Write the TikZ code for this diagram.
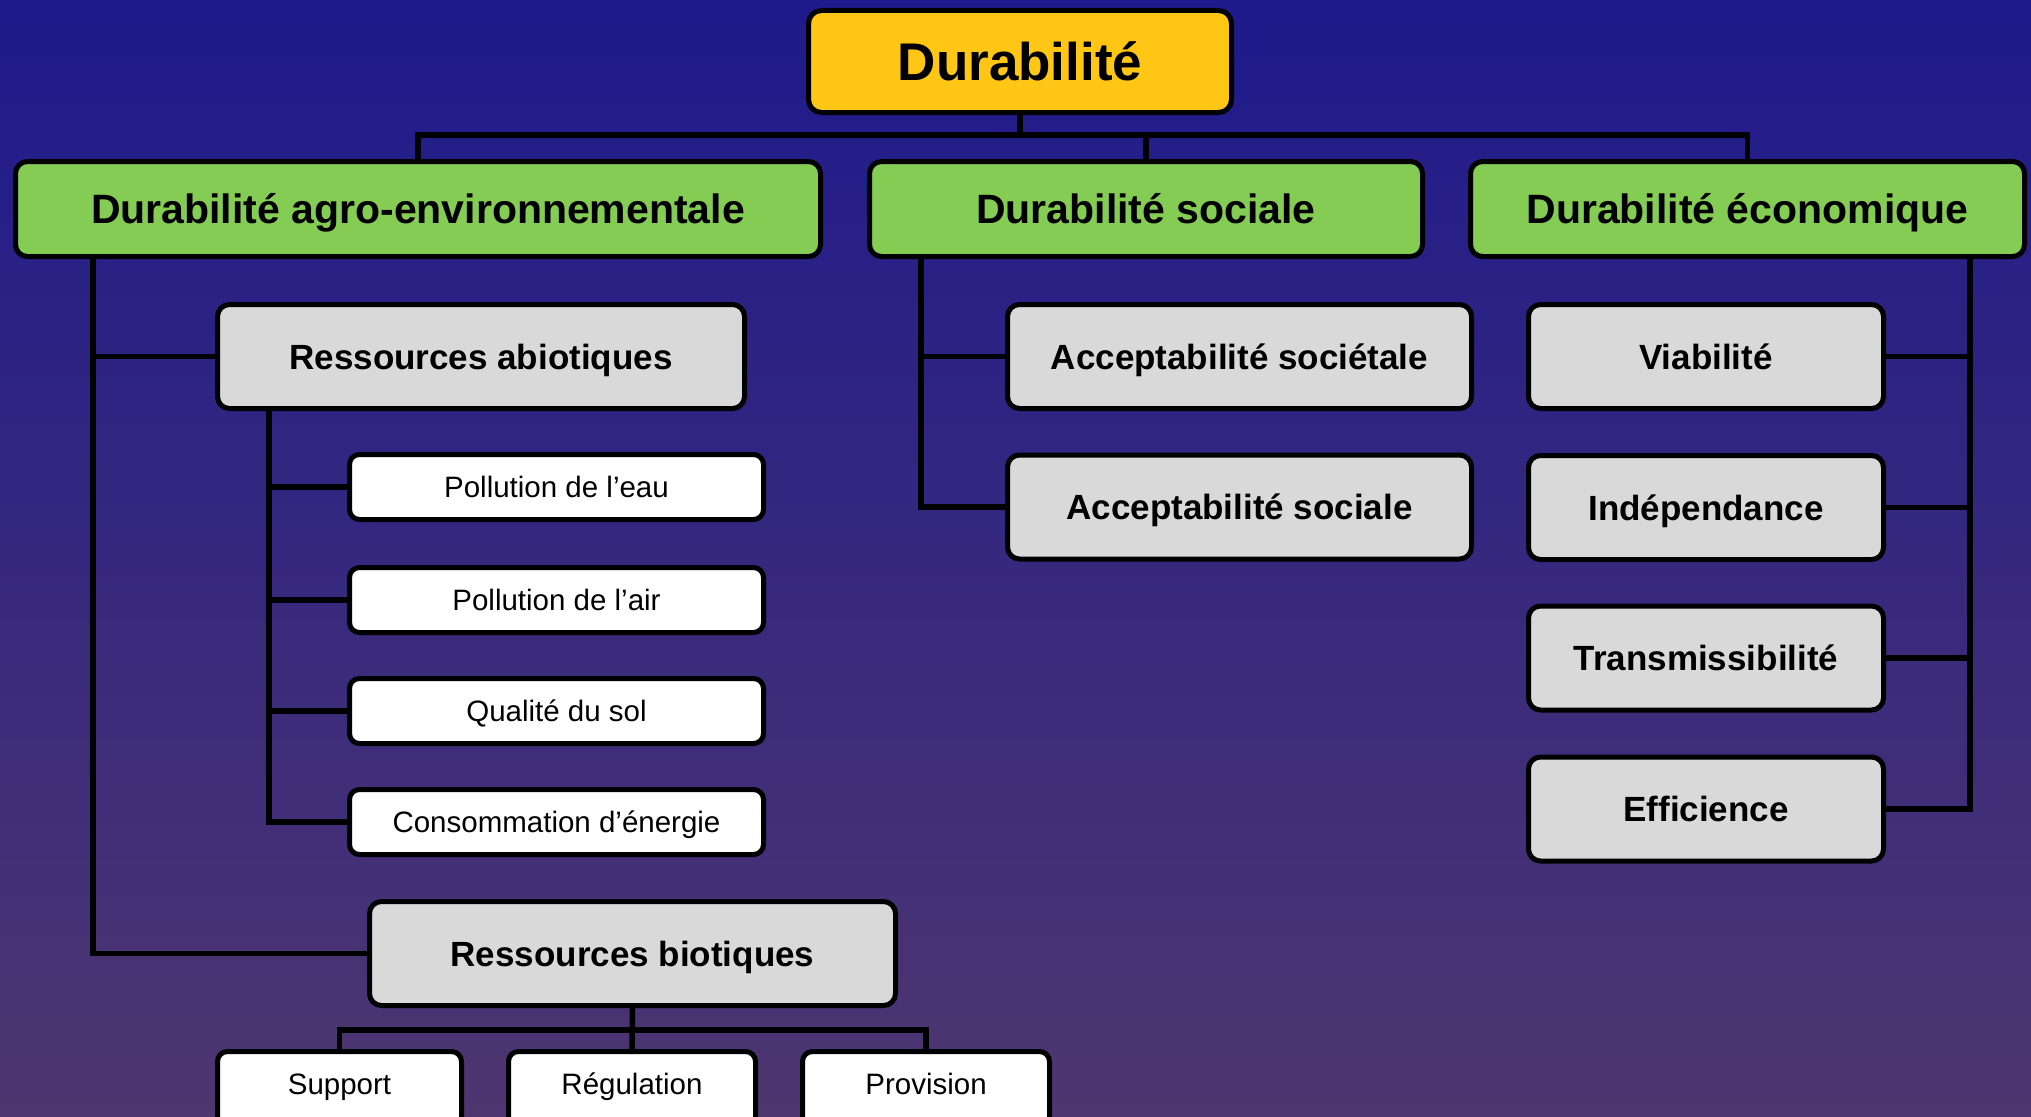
\documentclass[tikz,border=0pt]{standalone}
\usepackage{fontspec}
\setmainfont{Liberation Sans}
\definecolor{bgtop}{RGB}{30,26,140}
\definecolor{bgbot}{RGB}{78,54,112}
\definecolor{rootfill}{RGB}{255,198,22}
\definecolor{pillarfill}{RGB}{132,204,84}
\definecolor{critfill}{RGB}{217,217,217}
\begin{document}
\begin{tikzpicture}[x=1pt,y=-1pt,
  box/.style={draw=black, line width=5pt, inner sep=0pt, align=center, text depth=0pt},
  rootbox/.style={box, fill=rootfill, rounded corners=13pt, text height=38pt,
    font=\fontsize{53}{60}\selectfont\bfseries},
  pillar/.style={box, fill=pillarfill, rounded corners=12pt, minimum height=95pt,
    text height=29.5pt, font=\fontsize{41}{48}\selectfont\bfseries},
  crit/.style={box, fill=critfill, rounded corners=12pt, minimum height=104pt,
    text height=25.2pt, font=\fontsize{35}{42}\selectfont\bfseries},
  leaf/.style={box, fill=white, rounded corners=10pt, minimum height=65pt,
    text height=21.2pt, font=\fontsize{29.5}{35}\selectfont},
  lowleaf/.style={leaf, minimum height=75pt, text depth=10pt},
  wire/.style={draw=black, line width=5.5pt}]

% background
\path[use as bounding box, clip] (0,0) rectangle (2031,1116);
\shade[top color=bgtop, bottom color=bgbot] (0,0) rectangle (2031,1116);

% root and the three pillars
\node[rootbox, minimum width=423pt, minimum height=102pt] (root) at (1020,61.5) {Durabilité};
\node[pillar, minimum width=805pt] (agro) at (418,209) {Durabilité agro-environnementale};
\node[pillar, minimum width=553pt] (soc) at (1146,209) {Durabilité sociale};
\node[pillar, minimum width=554pt] (eco) at (1747.5,209) {Durabilité économique};

% agro-environmental branch
\node[crit, minimum width=527pt] (abio) at (481,356.5) {Ressources abiotiques};
\node[leaf, minimum width=414pt] (eau) at (556.5,487) {Pollution de l’eau};
\node[leaf, minimum width=414pt] (air) at (556.5,600) {Pollution de l’air};
\node[leaf, minimum width=414pt] (sol) at (556.5,711) {Qualité du sol};
\node[leaf, minimum width=414pt] (ener) at (556.5,822) {Consommation d’énergie};
\node[crit, minimum width=526pt] (bio) at (632.5,953.5) {Ressources biotiques};
\node[lowleaf, minimum width=244pt] (supp) at (339.5,1089) {Support};
\node[lowleaf, minimum width=247pt] (regu) at (632,1089) {Régulation};
\node[lowleaf, minimum width=247pt] (prov) at (926,1089) {Provision};

% social branch
\node[crit, minimum width=464pt] (socie) at (1239.5,356.5) {Acceptabilité sociétale};
\node[crit, minimum width=464pt] (socia) at (1239.5,507) {Acceptabilité sociale};

% economic branch
\node[crit, minimum width=355pt] (viab) at (1706,356.5) {Viabilité};
\node[crit, minimum width=355pt] (indep) at (1706,507.5) {Indépendance};
\node[crit, minimum width=355pt] (trans) at (1706,658) {Transmissibilité};
\node[crit, minimum width=355pt] (effi) at (1706,809) {Efficience};

% junction points
\coordinate (topbus) at (1020,135);
\coordinate (agrotrunk) at ([xshift=80pt]agro.south west);
\coordinate (abiotrunk) at ([xshift=54pt]abio.south west);
\coordinate (soctrunk) at ([xshift=54pt]soc.south west);
\coordinate (ecotrunk) at ([xshift=-57pt]eco.south east);
\coordinate (biobus) at (632,1030);

% root to pillars
\draw[wire] (root.south) -- (topbus);
\draw[wire] (agro.north) -- (agro.north |- topbus) -- (eco.north |- topbus) -- (eco.north);
\draw[wire] (soc.north) -- (soc.north |- topbus);

% agro-environmental connectors
\draw[wire] (agrotrunk) |- (bio.west);
\draw[wire] (agrotrunk |- abio.west) -- (abio.west);
\draw[wire] (abiotrunk) |- (ener.west);
\draw[wire] (abiotrunk |- eau.west) -- (eau.west);
\draw[wire] (abiotrunk |- air.west) -- (air.west);
\draw[wire] (abiotrunk |- sol.west) -- (sol.west);
\draw[wire] (bio.south) -- (regu.north);
\draw[wire] (supp.north) |- (biobus) -| (prov.north);

% social connectors
\draw[wire] (soctrunk) |- (socia.west);
\draw[wire] (soctrunk |- socie.west) -- (socie.west);

% economic connectors
\draw[wire] (ecotrunk) |- (effi.east);
\draw[wire] (ecotrunk |- viab.east) -- (viab.east);
\draw[wire] (ecotrunk |- indep.east) -- (indep.east);
\draw[wire] (ecotrunk |- trans.east) -- (trans.east);
\end{tikzpicture}
\end{document}
